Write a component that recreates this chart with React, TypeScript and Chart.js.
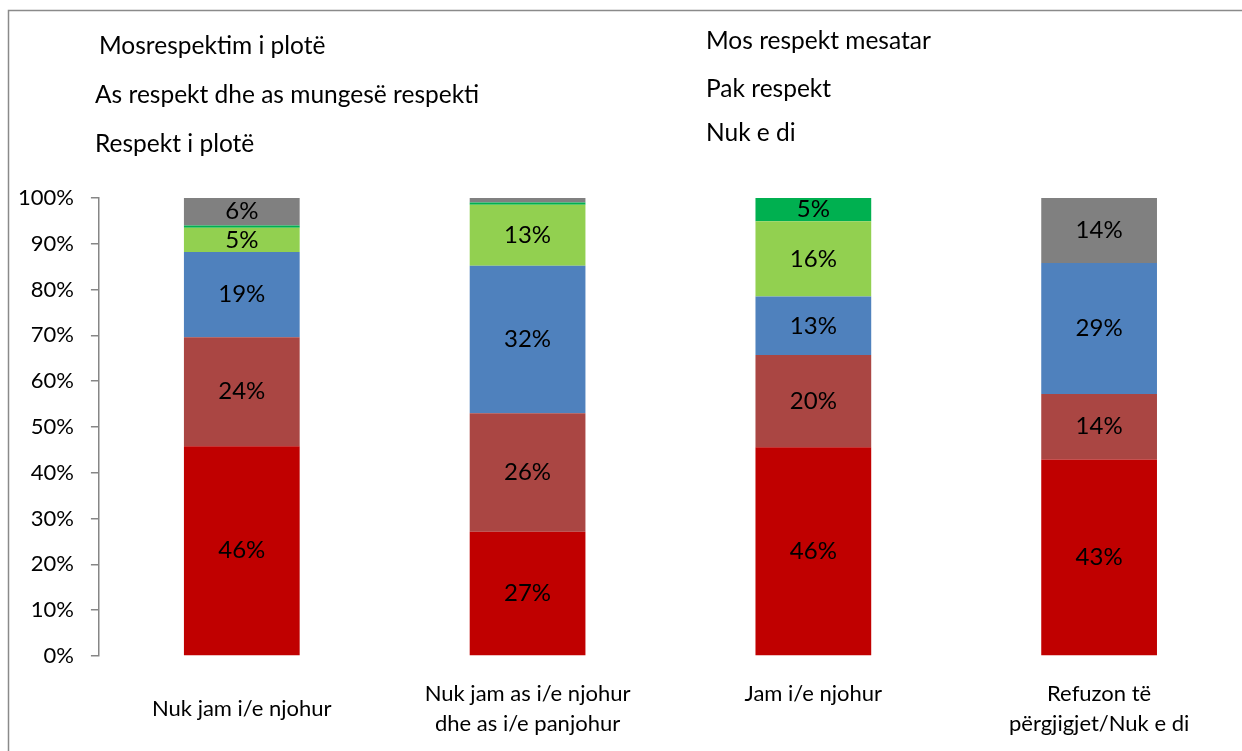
import React, { useEffect, useRef } from "react";
import { Chart, registerables } from "chart.js";

Chart.register(...registerables);

const categories: (string | string[])[] = [
  "Nuk jam i/e njohur",
  ["Nuk jam as i/e njohur", "dhe as i/e panjohur"],
  ["Jam i/e njohur", ""],
  ["Refuzon të", "përgjigjet/Nuk e di"],
];

const seriesNames = [
  "Mosrespektim i plotë",
  "Mos respekt mesatar",
  "As respekt dhe as mungesë respekti",
  "Pak respekt",
  "Respekt i plotë",
  "Nuk e di",
];

const mosrespektimPlote = [45.8, 27.1, 45.6, 42.9];
const mosRespektMesatar = [23.8, 25.9, 20.1, 14.3];
const asRespektAsMungese = [18.6, 32.2, 12.8, 28.6];
const pakRespekt = [5.3, 13.3, 16.4, 0];
const respektPlote = [0.5, 0.5, 5.1, 0];
const nukEDi = [6.0, 1.0, 0, 14.2];

const seriesValues = [
  mosrespektimPlote,
  mosRespektMesatar,
  asRespektAsMungese,
  pakRespekt,
  respektPlote,
  nukEDi,
];

const seriesColors = ["#C00000", "#AA4643", "#4F81BD", "#92D050", "#00B050", "#808080"];

const yTicks = [0, 10, 20, 30, 40, 50, 60, 70, 80, 90, 100];

const FONT = "Lato, 'Open Sans', sans-serif";

const framePlugin = {
  id: "frame",
  beforeDraw(chart: any) {
    const ctx = chart.ctx;
    ctx.save();
    ctx.strokeStyle = "#8a8a8a";
    ctx.lineWidth = 1.5;
    ctx.beginPath();
    ctx.moveTo(8.5, chart.height);
    ctx.lineTo(8.5, 10.5);
    ctx.lineTo(chart.width, 10.5);
    ctx.stroke();
    ctx.restore();
  },
};

const textLegendPlugin = {
  id: "textLegend",
  afterDraw(chart: any) {
    const ctx = chart.ctx;
    ctx.save();
    ctx.font = `24.5px ${FONT}`;
    ctx.fillStyle = "#000";
    ctx.textBaseline = "middle";
    ctx.textAlign = "left";
    const colX = [95, 706];
    const rowY = [[46, 95, 144], [41, 89, 133]];
    chart.data.datasets.forEach((ds: any, i: number) => {
      const col = i % 2;
      const row = Math.floor(i / 2);
      ctx.fillText(ds.label, colX[col] + (i === 0 ? 4 : 0), rowY[col][row]);
    });
    ctx.restore();
  },
};

const valueLabelPlugin = {
  id: "valueLabels",
  afterDatasetsDraw(chart: any) {
    const ctx = chart.ctx;
    ctx.save();
    ctx.font = `24px ${FONT}`;
    ctx.fillStyle = "#000";
    ctx.textAlign = "center";
    ctx.textBaseline = "middle";
    chart.data.datasets.forEach((ds: any, di: number) => {
      const meta = chart.getDatasetMeta(di);
      meta.data.forEach((bar: any, i: number) => {
        const v = ds.data[i];
        if (v < 3) return;
        const y = (bar.y + bar.base) / 2;
        ctx.fillText(Math.round(v) + "%", bar.x, y);
      });
    });
    ctx.restore();
  },
};

export default function App() {
  const ref = useRef<HTMLCanvasElement | null>(null);

  useEffect(() => {
    if (!ref.current) return;
    const chart = new Chart(ref.current, {
      type: "bar",
      data: {
        labels: categories,
        datasets: seriesNames.map((name, i) => ({
          label: name,
          data: seriesValues[i],
          backgroundColor: seriesColors[i],
          borderWidth: 0,
          barPercentage: 0.405,
          categoryPercentage: 1,
        })),
      },
      options: {
        animation: false,
        responsive: false,
        maintainAspectRatio: false,
        layout: { padding: { top: 198, bottom: -41, left: 1, right: 0 } },
        plugins: {
          legend: { display: false },
          tooltip: { enabled: false },
          title: { display: false },
        },
        scales: {
          x: {
            stacked: true,
            grid: { display: false, drawTicks: false },
            border: { display: false },
            ticks: {
              color: "#000",
              font: { family: FONT, size: 22, lineHeight: 1.364 },
              padding: 38,
              maxRotation: 0,
              autoSkip: false,
              crossAlign: "center",
            },
          },
          y: {
            stacked: true,
            min: 0,
            max: 100,
            afterBuildTicks: (axis: any) => {
              axis.ticks = yTicks.map((v) => ({ value: v }));
            },
            grid: {
              drawOnChartArea: false,
              drawTicks: true,
              tickLength: 8,
              color: "#868686",
              lineWidth: 1.5,
            },
            border: { display: true, color: "#868686", width: 1.5 },
            ticks: {
              color: "#000",
              font: { family: FONT, size: 22 },
              padding: 17,
              callback: (v: any) => v + "%",
            },
          },
        },
      },
      plugins: [framePlugin, textLegendPlugin, valueLabelPlugin],
    });
    return () => chart.destroy();
  }, []);

  return (
    <div style={{ position: "fixed", left: 0, top: 0, width: 1242, height: 751, background: "#fff" }}>
      <canvas ref={ref} width={1242} height={751} style={{ display: "block" }} />
    </div>
  );
}
